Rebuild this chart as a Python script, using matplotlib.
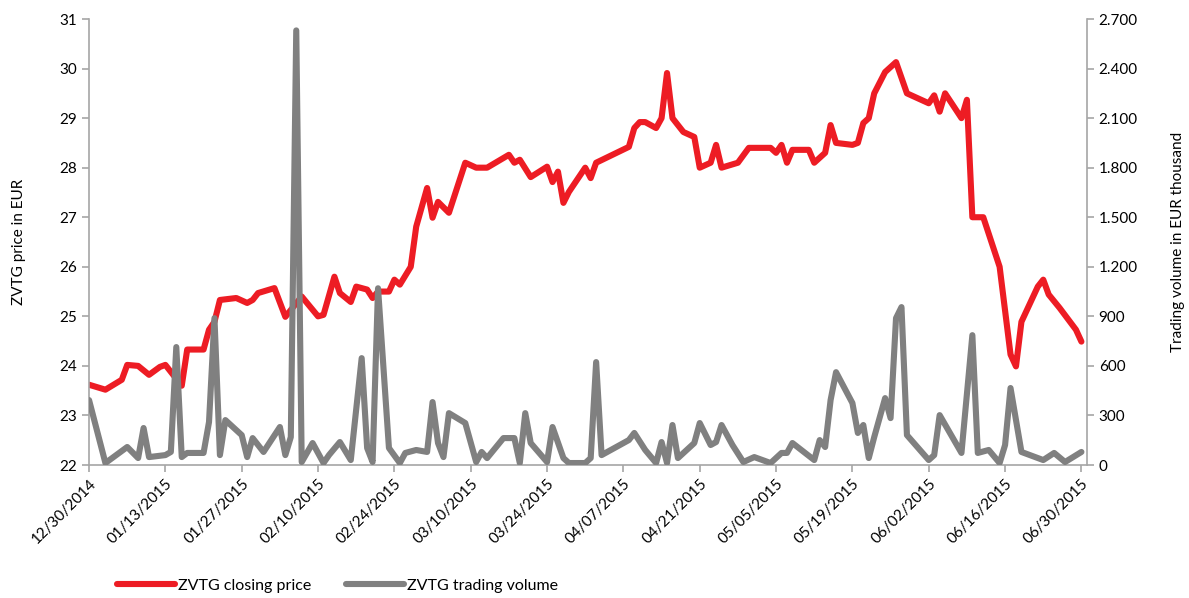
import matplotlib.pyplot as plt
import matplotlib.dates as mdates
from matplotlib.ticker import FuncFormatter, MultipleLocator
import pandas as pd

plt.rcParams["font.family"] = ["Lato", "DejaVu Sans"]

# closing price (EUR)
price_dates = [
    "2014-12-30", "2015-01-02", "2015-01-05", "2015-01-06", "2015-01-08", "2015-01-10",
    "2015-01-12", "2015-01-13", "2015-01-16", "2015-01-17", "2015-01-20", "2015-01-21",
    "2015-01-22", "2015-01-23", "2015-01-26", "2015-01-28", "2015-01-29", "2015-01-30",
    "2015-02-02", "2015-02-04", "2015-02-07", "2015-02-10", "2015-02-11", "2015-02-13",
    "2015-02-14", "2015-02-16", "2015-02-17", "2015-02-19", "2015-02-20", "2015-02-21",
    "2015-02-23", "2015-02-24", "2015-02-25", "2015-02-27", "2015-02-28", "2015-03-02",
    "2015-03-03", "2015-03-04", "2015-03-06", "2015-03-09", "2015-03-11", "2015-03-13",
    "2015-03-17", "2015-03-18", "2015-03-19", "2015-03-21", "2015-03-24", "2015-03-25",
    "2015-03-26", "2015-03-27", "2015-03-28", "2015-03-31", "2015-04-01", "2015-04-02",
    "2015-04-08", "2015-04-09", "2015-04-10", "2015-04-11", "2015-04-13", "2015-04-14",
    "2015-04-15", "2015-04-16", "2015-04-18", "2015-04-20", "2015-04-21", "2015-04-23",
    "2015-04-24", "2015-04-25", "2015-04-28", "2015-04-30", "2015-05-04", "2015-05-05",
    "2015-05-06", "2015-05-07", "2015-05-08", "2015-05-11", "2015-05-12", "2015-05-14",
    "2015-05-15", "2015-05-16", "2015-05-19", "2015-05-20", "2015-05-21", "2015-05-22",
    "2015-05-23", "2015-05-25", "2015-05-26", "2015-05-27", "2015-05-29", "2015-06-02",
    "2015-06-03", "2015-06-04", "2015-06-05", "2015-06-08", "2015-06-09", "2015-06-10",
    "2015-06-12", "2015-06-15", "2015-06-17", "2015-06-18", "2015-06-19", "2015-06-22",
    "2015-06-23", "2015-06-24", "2015-06-26", "2015-06-29", "2015-06-30",
]
price_values = [
    23.62, 23.52, 23.72, 24.02, 24.00, 23.82,
    23.98, 24.02, 23.60, 24.33, 24.33, 24.73,
    24.89, 25.33, 25.37, 25.27, 25.33, 25.47,
    25.57, 24.99, 25.40, 25.00, 25.03, 25.80,
    25.47, 25.29, 25.60, 25.54, 25.37, 25.50,
    25.50, 25.74, 25.64, 26.00, 26.81, 27.59,
    26.99, 27.31, 27.09, 28.10, 28.00, 28.00,
    28.26, 28.10, 28.16, 27.81, 28.02, 27.71,
    27.92, 27.29, 27.51, 28.00, 27.79, 28.10,
    28.42, 28.80, 28.92, 28.92, 28.80, 29.00,
    29.91, 29.00, 28.72, 28.62, 28.00, 28.10,
    28.46, 28.00, 28.10, 28.40, 28.40, 28.30,
    28.46, 28.10, 28.36, 28.36, 28.10, 28.30,
    28.86, 28.50, 28.46, 28.50, 28.90, 29.00,
    29.50, 29.93, 30.03, 30.13, 29.50, 29.30,
    29.46, 29.13, 29.50, 29.00, 29.37, 27.00,
    27.00, 26.00, 24.23, 23.99, 24.89, 25.60,
    25.74, 25.44, 25.17, 24.73, 24.49,
]

# trading volume (EUR thousand)
volume_dates = [
    "2014-12-30", "2015-01-02", "2015-01-06", "2015-01-08", "2015-01-09", "2015-01-10",
    "2015-01-13", "2015-01-14", "2015-01-15", "2015-01-16", "2015-01-17", "2015-01-20",
    "2015-01-21", "2015-01-22", "2015-01-23", "2015-01-24", "2015-01-27", "2015-01-28",
    "2015-01-29", "2015-01-31", "2015-02-03", "2015-02-04", "2015-02-05", "2015-02-06",
    "2015-02-07", "2015-02-09", "2015-02-11", "2015-02-12", "2015-02-14", "2015-02-16",
    "2015-02-18", "2015-02-19", "2015-02-20", "2015-02-21", "2015-02-23", "2015-02-25",
    "2015-02-26", "2015-02-28", "2015-03-02", "2015-03-03", "2015-03-04", "2015-03-05",
    "2015-03-06", "2015-03-09", "2015-03-11", "2015-03-12", "2015-03-13", "2015-03-16",
    "2015-03-18", "2015-03-19", "2015-03-20", "2015-03-21", "2015-03-24", "2015-03-25",
    "2015-03-27", "2015-03-28", "2015-03-31", "2015-04-01", "2015-04-02", "2015-04-03",
    "2015-04-08", "2015-04-09", "2015-04-11", "2015-04-13", "2015-04-14", "2015-04-15",
    "2015-04-16", "2015-04-17", "2015-04-20", "2015-04-21", "2015-04-23", "2015-04-24",
    "2015-04-25", "2015-04-27", "2015-04-29", "2015-05-01", "2015-05-04", "2015-05-06",
    "2015-05-07", "2015-05-08", "2015-05-12", "2015-05-13", "2015-05-14", "2015-05-15",
    "2015-05-16", "2015-05-19", "2015-05-20", "2015-05-21", "2015-05-22", "2015-05-23",
    "2015-05-25", "2015-05-26", "2015-05-27", "2015-05-28", "2015-05-29", "2015-06-02",
    "2015-06-03", "2015-06-04", "2015-06-08", "2015-06-10", "2015-06-11", "2015-06-13",
    "2015-06-15", "2015-06-16", "2015-06-17", "2015-06-19", "2015-06-23", "2015-06-25",
    "2015-06-27", "2015-06-30",
]
volume_values = [
    393, 12, 109, 42, 224, 48,
    60, 79, 714, 48, 73, 73,
    260, 889, 60, 272, 181, 48,
    163, 79, 230, 60, 169, 2631,
    18, 133, 12, 60, 139, 30,
    647, 103, 18, 1070, 103, 12,
    73, 91, 79, 381, 133, 48,
    314, 254, 18, 79, 42, 163,
    163, 12, 314, 133, 18, 230,
    42, 12, 12, 42, 623, 60,
    151, 194, 91, 12, 139, 12,
    242, 42, 133, 254, 121, 139,
    242, 121, 18, 48, 12, 73,
    73, 133, 30, 151, 109, 393,
    562, 375, 194, 242, 42, 169,
    405, 284, 889, 956, 181, 30,
    60, 302, 73, 786, 73, 91,
    12, 121, 466, 79, 30, 73,
    18, 79,
]

tick_start = "2014-12-30"
tick_end = "2015-06-30"

RED = "#ed1c24"
GRAY = "#808080"
AXIS = "#a6a6a6"

fig = plt.figure(figsize=(11.89, 5.98), dpi=100)
ax = fig.add_axes([0.0749, 0.2224, 0.8392, 0.7458])
ax2 = ax.twinx()

l1, = ax.plot(pd.to_datetime(price_dates), price_values, color=RED, linewidth=4.4,
              solid_joinstyle="round", solid_capstyle="round",
              label="ZVTG closing price")
l2, = ax2.plot(pd.to_datetime(volume_dates), volume_values, color=GRAY, linewidth=4.4,
               solid_joinstyle="round", solid_capstyle="round",
               label="ZVTG trading volume")

ax.set_ylim(22, 31)
ax2.set_ylim(0, 2700)
ax.yaxis.set_major_locator(MultipleLocator(1))
ax2.yaxis.set_major_locator(MultipleLocator(300))
# European thousands separator
ax2.yaxis.set_major_formatter(FuncFormatter(lambda v, p: f"{int(v):,}".replace(",", ".")))

ticks = pd.date_range(tick_start, tick_end, freq="14D")
ax.set_xlim(pd.Timestamp(tick_start), pd.Timestamp(tick_end) + pd.Timedelta(days=1))
ax.set_xticks(ticks)
ax.xaxis.set_major_formatter(mdates.DateFormatter("%m/%d/%Y"))
for lab in ax.get_xticklabels():
    lab.set_rotation(45)
    lab.set_ha("right")
    lab.set_rotation_mode("anchor")

for a in (ax, ax2):
    a.spines["top"].set_visible(False)
    for s in ("left", "right", "bottom"):
        a.spines[s].set_color(AXIS)
        a.spines[s].set_linewidth(1.2)
    a.tick_params(colors=AXIS, labelcolor="black", labelsize=11, length=5, width=1.2)
ax.spines["right"].set_visible(False)
ax2.spines["left"].set_visible(False)
ax2.spines["bottom"].set_visible(False)

ax.set_ylabel("ZVTG price in EUR", fontsize=11, labelpad=24)
ax2.set_ylabel("Trading volume in EUR thousand", fontsize=11, labelpad=24)

fig.legend(handles=[l1, l2], loc="center", bbox_to_anchor=(0.284, 0.021),
           ncol=2, frameon=False, fontsize=11.5, handlelength=3.6,
           columnspacing=2.2, handletextpad=0.2)

fig.savefig("out.png", dpi=100)
